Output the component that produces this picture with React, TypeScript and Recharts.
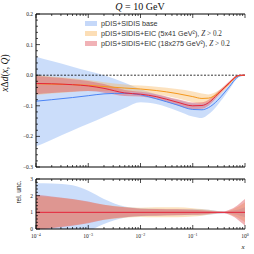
import React from 'react';
import { ComposedChart, Area, Line, XAxis, YAxis, ReferenceLine } from 'recharts';

// x grid (log spaced) and the three fits: base, EIC 5x41, EIC 18x275
const xs = [1e-4, 2e-4, 5e-4, 1e-3, 2e-3, 5e-3, 1e-2, 2e-2, 5e-2, 0.1, 0.15, 0.2, 0.3, 0.4, 0.5, 0.7, 0.8, 1.0];

const baseMid = [-0.085, -0.080, -0.073, -0.067, -0.061, -0.059, -0.064, -0.077, -0.097, -0.112, -0.113, -0.106, -0.082, -0.058, -0.038, -0.008, -0.002, 0];
const baseHi = [0.060, 0.046, 0.028, 0.014, 0.000, -0.025, -0.046, -0.062, -0.080, -0.092, -0.093, -0.088, -0.068, -0.048, -0.031, -0.005, 0.000, 0.002];
const baseLo = [-0.233, -0.211, -0.181, -0.159, -0.137, -0.107, -0.088, -0.094, -0.116, -0.135, -0.140, -0.128, -0.097, -0.070, -0.047, -0.012, -0.004, -0.002];

const eic5Mid = [-0.028, -0.029, -0.031, -0.033, -0.037, -0.042, -0.045, -0.050, -0.060, -0.070, -0.076, -0.075, -0.060, -0.042, -0.027, -0.004, -0.001, 0];
const eic5Hi = [0.000, -0.004, -0.010, -0.016, -0.023, -0.030, -0.034, -0.038, -0.045, -0.053, -0.060, -0.063, -0.052, -0.036, -0.022, -0.002, 0.000, 0.001];
const eic5Lo = [-0.065, -0.060, -0.055, -0.052, -0.052, -0.054, -0.056, -0.062, -0.075, -0.088, -0.093, -0.088, -0.068, -0.048, -0.032, -0.006, -0.002, -0.001];

const eic18Mid = [-0.027, -0.028, -0.031, -0.035, -0.043, -0.058, -0.062, -0.070, -0.088, -0.100, -0.099, -0.090, -0.062, -0.041, -0.025, -0.003, 0, 0];
const eic18Hi = [-0.003, -0.007, -0.013, -0.019, -0.029, -0.048, -0.054, -0.062, -0.078, -0.089, -0.088, -0.080, -0.054, -0.035, -0.020, 0.000, 0.001, 0.002];
const eic18Lo = [-0.062, -0.058, -0.054, -0.052, -0.057, -0.068, -0.070, -0.078, -0.098, -0.111, -0.110, -0.100, -0.070, -0.047, -0.030, -0.006, -0.002, -0.002];

// relative uncertainty (lower panel)
const baseRelHi = [2.75, 2.73, 2.62, 2.3, 1.8, 1.35, 1.25, 1.22, 1.2, 1.2, 1.18, 1.15, 1.08, 1.05, 1.08, 1.15, 1.2, 1.3];
const baseRelLo = [-0.75, -0.72, -0.55, -0.15, 0.3, 0.68, 0.76, 0.8, 0.82, 0.82, 0.83, 0.85, 0.92, 0.95, 0.92, 0.85, 0.8, 0.7];
const eic5RelHi = [2.0, 1.92, 1.78, 1.62, 1.45, 1.32, 1.28, 1.3, 1.3, 1.25, 1.2, 1.15, 1.06, 1.04, 1.1, 1.3, 1.4, 1.6];
const eic5RelLo = [0.0, 0.08, 0.22, 0.38, 0.55, 0.68, 0.72, 0.7, 0.7, 0.75, 0.8, 0.85, 0.94, 0.96, 0.9, 0.7, 0.6, 0.4];
const eic18RelHi = [2.05, 1.95, 1.8, 1.65, 1.45, 1.3, 1.22, 1.2, 1.18, 1.15, 1.13, 1.1, 1.05, 1.05, 1.15, 1.4, 1.55, 1.8];
const eic18RelLo = [-0.05, 0.05, 0.2, 0.35, 0.55, 0.7, 0.78, 0.8, 0.82, 0.85, 0.87, 0.9, 0.95, 0.95, 0.85, 0.6, 0.45, 0.2];

const xMajor = [1e-4, 1e-3, 1e-2, 1e-1, 1];
const xMajorLabels = ['\u22124', '\u22123', '\u22122', '\u22121', '0'];

const legendLabels = ['pDIS+SIDIS base', 'pDIS+SIDIS+EIC (5x41 GeV\u00B2), ', 'pDIS+SIDIS+EIC (18x275 GeV\u00B2), '];

const xMinor = [1e-4, 1e-3, 1e-2, 1e-1].flatMap((d) => [2, 3, 4, 5, 6, 7, 8, 9].map((k) => d * k));
const xTicks = [...xMajor, ...xMinor].sort((a, b) => a - b);
const stepTicks = (lo: number, hi: number, step: number) => {
  const out: number[] = [];
  for (let v = lo; v <= hi + 1e-9; v += step) out.push(Math.round(v * 1000) / 1000);
  return out;
};
const yTopTicks = stepTicks(-0.3, 0.2, 0.02);
const yBotTicks = stepTicks(0, 3, 0.2);

const C = {
  blueFill: '#7ea9f2', blueLine: '#4c84f5',
  orangeFill: '#f8b65e', orangeLine: '#f5981c',
  redFill: '#e0545e', redLine: '#e5243a',
};

const topData = xs.map((x, i) => ({
  x, bMid: baseMid[i], bBand: [baseLo[i], baseHi[i]],
  oMid: eic5Mid[i], oBand: [eic5Lo[i], eic5Hi[i]],
  rMid: eic18Mid[i], rBand: [eic18Lo[i], eic18Hi[i]],
}));
const botData = xs.map((x, i) => ({
  x, bBand: [baseRelLo[i], baseRelHi[i]],
  oBand: [eic5RelLo[i], eic5RelHi[i]],
  rBand: [eic18RelLo[i], eic18RelHi[i]],
}));

const W = 254;
const L = 36, R = 245;
const TOP = { t: 14, b: 167 };
const BOT = { t: 179, b: 229 };
const serif = 'Liberation Serif, DejaVu Serif, serif';
const sans = 'Liberation Sans, Arial, sans-serif';

const majorIndex = (v: number) => xMajor.findIndex((m) => Math.abs(m - v) / m < 1e-6);

const xTick = (edge: number, dir: number, labels: boolean) => (p: any) => {
  const v = p.payload.value;
  const idx = majorIndex(v);
  const major = idx >= 0;
  const len = major ? 4 : 2;
  const cx = p.payload.coordinate ?? p.x;
  return (
    <g>
      <line x1={cx} x2={cx} y1={edge} y2={edge + dir * len} stroke="#000" strokeWidth={0.7} />
      {labels && major && (
        <text x={cx} y={edge + 9} textAnchor="middle" fontFamily={serif} fontSize={5.5} fill="#222">
          10<tspan dy={-2.5} fontSize={4}>{xMajorLabels[idx]}</tspan>
        </text>
      )}
    </g>
  );
};

const yTick = (edge: number, dir: number, labels: boolean, unit: number, fmt: (v: number) => string) => (p: any) => {
  const v = p.payload.value;
  const major = Math.abs(v / unit - Math.round(v / unit)) < 1e-6;
  const len = major ? 4 : 2;
  return (
    <g>
      <line x1={edge} x2={edge + dir * len} y1={p.y} y2={p.y} stroke="#000" strokeWidth={0.7} />
      {labels && major && (
        <text x={edge - 3} y={p.y + 2} textAnchor="end" fontFamily={serif} fontSize={5.5} fill="#222">
          {fmt(v)}
        </text>
      )}
    </g>
  );
};

const fmtTop = (v: number) => v.toFixed(1).replace('-', '\u2212');
const fmtBot = (v: number) => String(Math.round(v));

const axisProps = { axisLine: { stroke: '#000', strokeWidth: 1 }, tickLine: false, interval: 0 as const, minTickGap: 0 };

const Panel: React.FC<{ data: any[]; top: number; bottom: number; yDomain: [number, number]; yTicks: number[]; unit: number; fmt: (v: number) => string; xLabels: boolean; lines: boolean; }> = ({ data, top, bottom, yDomain, yTicks, unit, fmt, xLabels, lines }) => (
  <ComposedChart width={W} height={W} data={data} margin={{ top: top - 1, right: W - R, bottom: W - bottom - 1, left: 0 }} style={{ position: 'absolute', left: 0, top: 0 }}>
    <XAxis xAxisId="b" dataKey="x" type="number" scale="log" domain={[1e-4, 1]} allowDataOverflow ticks={xTicks} height={1} tick={xTick(bottom, -1, xLabels)} {...axisProps} />
    <XAxis xAxisId="t" dataKey="x" orientation="top" type="number" scale="log" domain={[1e-4, 1]} allowDataOverflow ticks={xTicks} height={1} tick={xTick(top, 1, false)} {...axisProps} />
    <YAxis yAxisId="l" type="number" domain={yDomain} allowDataOverflow ticks={yTicks} width={L} tick={yTick(L, 1, true, unit, fmt)} {...axisProps} />
    <YAxis yAxisId="r" orientation="right" type="number" domain={yDomain} allowDataOverflow ticks={yTicks} width={0} tick={yTick(R, -1, false, unit, fmt)} {...axisProps} />
    {lines && <ReferenceLine xAxisId="b" yAxisId="l" y={0} stroke="#000" strokeWidth={0.8} strokeDasharray="2 1.5" />}
    <Area xAxisId="b" yAxisId="l" type="monotone" dataKey="bBand" stroke="none" fill={C.blueFill} fillOpacity={0.4} isAnimationActive={false} />
    <Area xAxisId="b" yAxisId="l" type="monotone" dataKey="oBand" stroke="none" fill={C.orangeFill} fillOpacity={0.4} isAnimationActive={false} />
    <Area xAxisId="b" yAxisId="l" type="monotone" dataKey="rBand" stroke="none" fill={C.redFill} fillOpacity={0.45} isAnimationActive={false} />
    {lines && <Line xAxisId="b" yAxisId="l" type="monotone" dataKey="bMid" stroke={C.blueLine} strokeWidth={1} dot={false} isAnimationActive={false} />}
    {lines && <Line xAxisId="b" yAxisId="l" type="monotone" dataKey="oMid" stroke={C.orangeLine} strokeWidth={1} dot={false} isAnimationActive={false} />}
    {lines && <Line xAxisId="b" yAxisId="l" type="monotone" dataKey="rMid" stroke={C.redLine} strokeWidth={1} dot={false} isAnimationActive={false} />}
    {!lines && <ReferenceLine xAxisId="b" yAxisId="l" y={1} stroke={C.redLine} strokeWidth={1} />}
  </ComposedChart>
);

const legendColors = [C.blueFill, C.orangeFill, C.redFill];

const Overlay: React.FC = () => (
  <svg width={W} height={W} style={{ position: 'absolute', left: 0, top: 0 }}>
    <text x={140} y={10} textAnchor="middle" fontFamily={serif} fontSize={10} fill="#111">
      <tspan fontStyle="italic">Q</tspan> = 10 GeV
    </text>
    <text transform="translate(8,73) rotate(-90)" textAnchor="middle" fontFamily={serif} fontSize={9.5} fill="#111">
      <tspan fontStyle="italic">x</tspan>Δ<tspan fontStyle="italic">d</tspan>(<tspan fontStyle="italic">x</tspan>, <tspan fontStyle="italic">Q</tspan>)
    </text>
    <text transform="translate(21,192) rotate(-90)" textAnchor="middle" fontFamily={sans} fontSize={6.5} fill="#111">rel. unc.</text>
    <text x={243} y={249} textAnchor="middle" fontFamily={serif} fontStyle="italic" fontSize={7} fill="#111">x</text>
    {legendLabels.map((lab, i) => (
      <g key={lab}>
        <rect x={85} y={21 + i * 10} width={12} height={5} fill={legendColors[i]} fillOpacity={0.45} />
        <text x={101} y={26 + i * 10} fontFamily={sans} fontSize={7.2} fill="#333">
          {lab}
          {i > 0 && <tspan fontFamily={serif} fontStyle="italic">Z</tspan>}
          {i > 0 && <tspan fontFamily={serif}> &gt; 0.2</tspan>}
        </text>
      </g>
    ))}
  </svg>
);

export default function App() {
  return (
    <div style={{ position: 'absolute', left: 0, top: 0, width: W, height: W, background: '#fff' }}>
      <Panel data={topData} top={TOP.t} bottom={TOP.b} yDomain={[-0.3, 0.2]} yTicks={yTopTicks} unit={0.1} fmt={fmtTop} xLabels={false} lines />
      <Panel data={botData} top={BOT.t} bottom={BOT.b} yDomain={[0, 3]} yTicks={yBotTicks} unit={1} fmt={fmtBot} xLabels lines={false} />
      <Overlay />
    </div>
  );
}
